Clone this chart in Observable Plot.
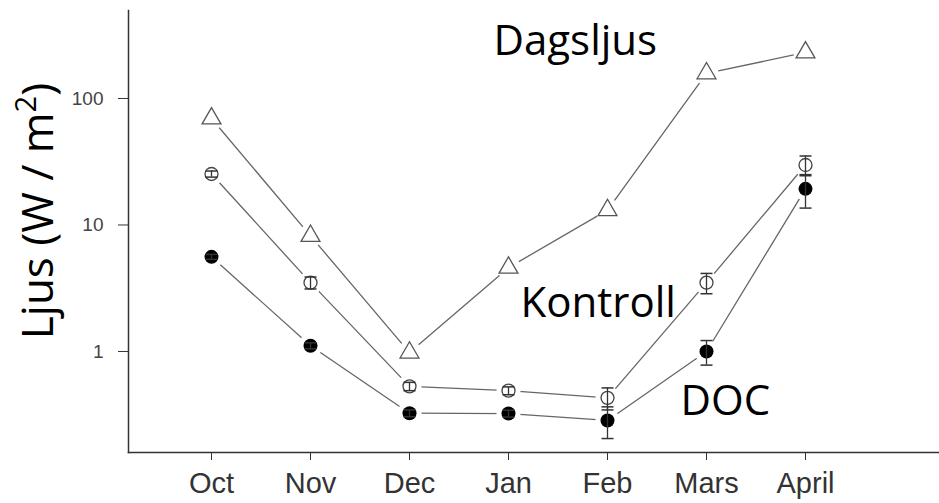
<!DOCTYPE html>
<html><head><meta charset="utf-8">
<script src="https://cdn.jsdelivr.net/npm/d3@7"></script>
<script src="https://cdn.jsdelivr.net/npm/@observablehq/plot@0.6"></script>
<style>body{margin:0;background:#fff;}</style>
</head><body><div id="chart"></div>
<script>
const months = ["Oct", "Nov", "Dec", "Jan", "Feb", "Mars", "April"];
const dagsljus = [69.5, 8.2, 0.98, 4.6, 13.1, 158, 231];
const kontroll = [25.3, 3.5, 0.53, 0.49, 0.43, 3.5, 29.8];
const kontrollErr = [1.4, 0.38, 0.04, 0.035, 0.085, 0.64, 5.3];
const doc = [5.6, 1.11, 0.325, 0.323, 0.285, 1.0, 19.3];
const docErr = [0.25, 0.06, 0.02, 0.02, 0.08, 0.22, 5.7];
const yTicks = [1, 10, 100];
const yLabel = ["Ljus (W / m", "2", ")"];

const mk = (vals, err, name) => months.map((m, i) => ({
  month: m, value: vals[i], series: name,
  lo: err ? vals[i] - err[i] : null, hi: err ? vals[i] + err[i] : null
}));
const dRows = mk(dagsljus, null, "Dagsljus");
const kRows = mk(kontroll, kontrollErr, "Kontroll");
const cRows = mk(doc, docErr, "DOC");
const all = [...dRows, ...kRows, ...cRows];
const errRows = [...kRows, ...cRows];

const lineColor = "#666";
const axisColor = "#333";
const capSymbol = {draw(ctx, size) { const w = Math.sqrt(size / Math.PI); ctx.moveTo(-w, 0); ctx.lineTo(w, 0); }};

const chart = Plot.plot({
  width: 939, height: 503,
  marginTop: 10, marginBottom: 51, marginLeft: 128, marginRight: 0,
  style: {fontFamily: "Liberation Sans, Arial, sans-serif", background: "#fff"},
  x: {type: "point", domain: months, range: [209, 806], padding: 0},
  y: {type: "log", domain: [0.159, 496]},
  marks: [
    Plot.frame({anchor: "left", stroke: axisColor, strokeWidth: 1.5}),
    Plot.frame({anchor: "bottom", stroke: axisColor, strokeWidth: 1.5}),
    Plot.axisY({ticks: yTicks, tickFormat: d => String(d), tickSize: 10, tickPadding: 15,
      fontSize: 19, stroke: axisColor, fill: "#444", label: null}),
    Plot.axisX({tickSize: 8, tickPadding: 12, fontSize: 29, stroke: axisColor, fill: "#333", label: null}),
    Plot.line(all, {x: "month", y: "value", z: "series", stroke: lineColor, strokeWidth: 1.3}),
    Plot.dot(all, {x: "month", y: "value", r: 12, fill: "white", stroke: null}),
    Plot.dot(dRows, {x: "month", y: "value", symbol: "triangle", r: 7, fill: "white", stroke: "#555", strokeWidth: 1.3}),
    Plot.dot(kRows, {x: "month", y: "value", r: 6.5, fill: "white", stroke: "#444", strokeWidth: 1.3}),
    Plot.dot(cRows, {x: "month", y: "value", r: 7, fill: "black", stroke: null}),
    Plot.ruleX(errRows, {x: "month", y1: "lo", y2: "hi", stroke: "#333", strokeWidth: 1.3}),
    Plot.dot(errRows, {x: "month", y: "lo", symbol: capSymbol, r: 6, fill: "none", stroke: "#333", strokeWidth: 1.5}),
    Plot.dot(errRows, {x: "month", y: "hi", symbol: capSymbol, r: 6, fill: "none", stroke: "#333", strokeWidth: 1.5}),
    Plot.text(["Dagsljus"], {x: ["Jan"], y: [219], dx: -15, text: d => d, textAnchor: "start", lineAnchor: "bottom",
      fontFamily: "Open Sans", fontSize: 42, fill: "black"}),
    Plot.text(["Kontroll"], {x: ["Jan"], y: [1.86], dx: 12, text: d => d, textAnchor: "start", lineAnchor: "bottom",
      fontFamily: "Open Sans", fontSize: 42, fill: "black"}),
    Plot.text(["DOC"], {x: ["Mars"], y: [0.312], dx: -26, text: d => d, textAnchor: "start", lineAnchor: "bottom",
      fontFamily: "Open Sans", fontSize: 42, fill: "black"})
  ]
});

const svg = d3.select(chart);
const lbl = svg.append("text")
  .attr("transform", "translate(53,211) rotate(-90)")
  .attr("text-anchor", "middle")
  .attr("font-family", "Open Sans")
  .attr("font-size", 44)
  .attr("fill", "black");
lbl.append("tspan").text(yLabel[0]);
lbl.append("tspan").attr("font-size", 29).attr("dy", -17).text(yLabel[1]);
lbl.append("tspan").attr("dy", 17).text(yLabel[2]);

document.getElementById("chart").appendChild(chart);
</script>
</body></html>
